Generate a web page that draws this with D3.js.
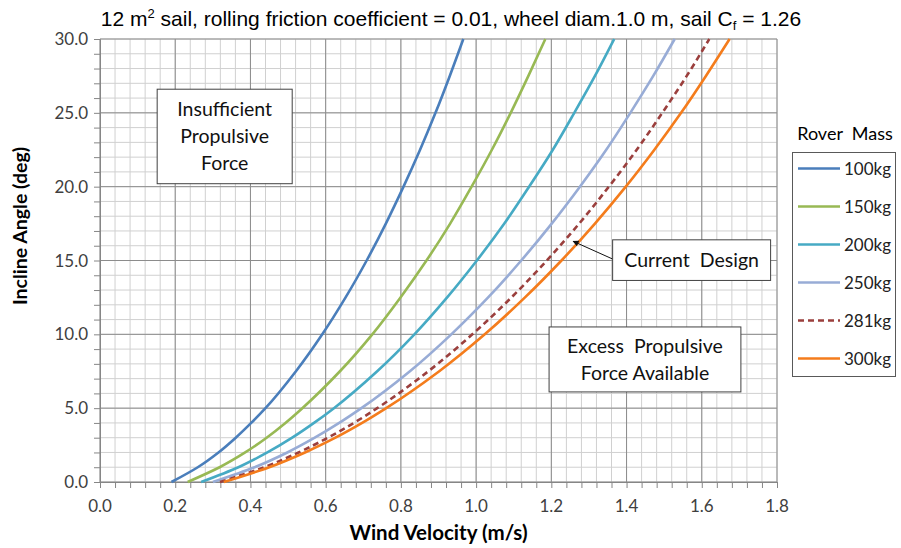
<!DOCTYPE html>
<html>
<head>
<meta charset="utf-8">
<script src="https://cdn.jsdelivr.net/npm/d3@7"></script>
<style>
  body { margin: 0; background: #fff; }
  svg { display: block; }
</style>
</head>
<body>
<div id="chart"></div>
<script>
// incline angle (deg) at which each velocity was read
var angles = [0, 1, 2, 3, 4, 5, 7.5, 10, 12.5, 15, 17.5, 20, 22.5, 25, 27.5, 30];

var v100 = [0.190, 0.260, 0.315, 0.361, 0.402, 0.440, 0.521, 0.591, 0.653, 0.709, 0.760, 0.807, 0.851, 0.892, 0.930, 0.966];
var v150 = [0.233, 0.318, 0.386, 0.443, 0.493, 0.538, 0.638, 0.724, 0.799, 0.868, 0.931, 0.988, 1.042, 1.092, 1.139, 1.184];
var v200 = [0.269, 0.368, 0.445, 0.511, 0.569, 0.622, 0.737, 0.836, 0.923, 1.002, 1.075, 1.141, 1.204, 1.261, 1.316, 1.367];
var v250 = [0.300, 0.411, 0.498, 0.571, 0.636, 0.695, 0.824, 0.934, 1.032, 1.120, 1.201, 1.276, 1.346, 1.410, 1.471, 1.528];
var v281 = [0.319, 0.436, 0.528, 0.606, 0.675, 0.737, 0.873, 0.990, 1.094, 1.188, 1.274, 1.353, 1.427, 1.495, 1.560, 1.620];
var v300 = [0.329, 0.450, 0.545, 0.626, 0.697, 0.761, 0.902, 1.023, 1.130, 1.227, 1.316, 1.398, 1.474, 1.545, 1.611, 1.674];

var seriesNames = ['100kg', '150kg', '200kg', '250kg', '281kg', '300kg'];
var seriesVals = [v100, v150, v200, v250, v281, v300];
var seriesColors = ['#4a7ebb', '#98b954', '#46aac4', '#98acd6', '#9b3f3d', '#f47c1c'];
var seriesDash = [null, null, null, null, '6,4', null];

var xTicks = [0, 0.2, 0.4, 0.6, 0.8, 1.0, 1.2, 1.4, 1.6, 1.8];
var yTicks = [0, 5, 10, 15, 20, 25, 30];

var W = 901, H = 548;
var margin = {left: 100, top: 39, right: 124, bottom: 66};

var svg = d3.select('#chart').append('svg')
    .attr('width', W)
    .attr('height', H);

var x = d3.scaleLinear().domain([0, 1.8]).range([margin.left, W - margin.right]);
var y = d3.scaleLinear().domain([0, 30]).range([H - margin.bottom, margin.top]);

var x0 = x(0), x1 = x(1.8), y0 = y(0), y1 = y(30);

// minor grid: x every 0.04, y every 1
var xMinor = d3.range(0, 46).map(function(i){ return i * 0.04; });
var yMinor = d3.range(0, 31);

var grid = svg.append('g');
grid.selectAll('line.xm').data(xMinor).enter().append('line')
    .attr('x1', function(d){ return x(d); }).attr('x2', function(d){ return x(d); })
    .attr('y1', y1).attr('y2', y0)
    .attr('stroke', '#d0d0d0').attr('stroke-width', 1);
grid.selectAll('line.ym').data(yMinor).enter().append('line')
    .attr('y1', function(d){ return y(d); }).attr('y2', function(d){ return y(d); })
    .attr('x1', x0).attr('x2', x1)
    .attr('stroke', '#d0d0d0').attr('stroke-width', 1);
// major grid
grid.selectAll('line.xM').data(xTicks).enter().append('line')
    .attr('x1', function(d){ return x(d); }).attr('x2', function(d){ return x(d); })
    .attr('y1', y1).attr('y2', y0)
    .attr('stroke', '#8c8c8c').attr('stroke-width', 1);
grid.selectAll('line.yM').data(yTicks).enter().append('line')
    .attr('y1', function(d){ return y(d); }).attr('y2', function(d){ return y(d); })
    .attr('x1', x0).attr('x2', x1)
    .attr('stroke', '#8c8c8c').attr('stroke-width', 1);

// axes with minor tick marks
var xAxis = svg.append('g')
    .attr('transform', 'translate(0,' + y0 + ')')
    .call(d3.axisBottom(x).tickValues(xMinor).tickSize(6).tickFormat(''));
var yAxis = svg.append('g')
    .attr('transform', 'translate(' + x0 + ',0)')
    .call(d3.axisLeft(y).tickValues(yMinor).tickSize(6).tickFormat(''));
[xAxis, yAxis].forEach(function(a){
    a.selectAll('path,line').attr('stroke', '#868686');
});

var lblFont = "Lato, 'Open Sans', sans-serif";

svg.append('g').selectAll('text').data(xTicks).enter().append('text')
    .attr('x', function(d){ return x(d); })
    .attr('y', y0 + 30)
    .attr('text-anchor', 'middle')
    .style('font-family', lblFont).style('font-size', '17px').style('fill', '#404040')
    .text(function(d){ return d.toFixed(1); });

svg.append('g').selectAll('text').data(yTicks).enter().append('text')
    .attr('x', x0 - 12)
    .attr('y', function(d){ return y(d) + 6; })
    .attr('text-anchor', 'end')
    .style('font-family', lblFont).style('font-size', '17px').style('fill', '#404040')
    .text(function(d){ return d.toFixed(1); });

// axis titles
svg.append('text')
    .attr('x', (x0 + x1) / 2).attr('y', 540)
    .attr('text-anchor', 'middle')
    .style('font-family', lblFont).style('font-size', '20.5px').style('font-weight', 'bold')
    .text('Wind Velocity (m/s)');
svg.append('text')
    .attr('transform', 'translate(27,226) rotate(-90)')
    .attr('text-anchor', 'middle')
    .style('font-family', lblFont).style('font-size', '19.5px').style('font-weight', 'bold')
    .text('Incline Angle (deg)');

// title
var title = svg.append('text')
    .attr('x', 451).attr('y', 26)
    .attr('text-anchor', 'middle')
    .style('font-family', "'Liberation Sans', Arial, sans-serif").style('font-size', '21px');
title.append('tspan').text('12 m');
title.append('tspan').attr('dy', -8).style('font-size', '13px').text('2');
title.append('tspan').attr('dy', 8).text(' sail, rolling friction coefficient = 0.01, wheel diam.1.0 m, sail C');
title.append('tspan').attr('dy', 4).style('font-size', '13px').text('f');
title.append('tspan').attr('dy', -4).text(' = 1.26');

// curves
var line = d3.line()
    .x(function(d){ return x(d[0]); })
    .y(function(d){ return y(d[1]); })
    .curve(d3.curveMonotoneY);

var curves = svg.append('g');
seriesVals.forEach(function(vals, i){
    var pts = vals.map(function(v, k){ return [v, angles[k]]; });
    curves.append('path')
        .datum(pts)
        .attr('d', line)
        .attr('fill', 'none')
        .attr('stroke', seriesColors[i])
        .attr('stroke-width', 2.6)
        .attr('stroke-dasharray', seriesDash[i]);
});

// annotation boxes
var noteFont = lblFont;
function noteBox(vx0, vy0, vx1, vy1, lines, lh){
    var bx = x(vx0), by = y(vy0), bw = x(vx1) - x(vx0), bh = y(vy1) - y(vy0);
    var g = svg.append('g');
    g.append('rect')
        .attr('x', bx).attr('y', by).attr('width', bw).attr('height', bh)
        .attr('fill', '#fff').attr('stroke', '#404040').attr('stroke-width', 1);
    var startY = by + bh / 2 - (lines.length - 1) * lh / 2 + 7;
    lines.forEach(function(t, i){
        g.append('text')
            .attr('x', bx + bw / 2).attr('y', startY + i * lh)
            .attr('text-anchor', 'middle')
            .style('font-family', noteFont).style('font-size', '19.5px').style('fill', '#111')
            .style('white-space', 'pre')
            .text(t);
    });
    return g;
}

noteBox(0.152, 26.6, 0.511, 20.2, ['Insufficient', 'Propulsive', 'Force'], 27);
noteBox(1.194, 10.5, 1.704, 6.1, ['Excess  Propulsive', 'Force Available'], 27);

// current design arrow
svg.append('defs').append('marker')
    .attr('id', 'arrowHead')
    .attr('viewBox', '0 0 10 10')
    .attr('refX', 9).attr('refY', 5)
    .attr('markerWidth', 7).attr('markerHeight', 6)
    .attr('orient', 'auto')
    .append('path').attr('d', 'M0,0 L10,5 L0,10 Z').attr('fill', '#111');

svg.append('line')
    .attr('x1', x(1.363)).attr('y1', y(15.1))
    .attr('x2', x(1.258)).attr('y2', y(16.3))
    .attr('stroke', '#111').attr('stroke-width', 1)
    .attr('marker-end', 'url(#arrowHead)');

noteBox(1.363, 16.4, 1.783, 13.65, ['Current  Design'], 27);

// legend
var lg = svg.append('g');
lg.append('text')
    .attr('x', 845).attr('y', 140)
    .attr('text-anchor', 'middle')
    .style('font-family', noteFont).style('font-size', '18px')
    .style('white-space', 'pre')
    .text('Rover  Mass');
lg.append('rect')
    .attr('x', 792.5).attr('y', 152.5).attr('width', 103).attr('height', 224)
    .attr('fill', '#fff').attr('stroke', '#595959').attr('stroke-width', 1);
seriesNames.forEach(function(n, i){
    var ly = 168.5 + i * 38;
    lg.append('line')
        .attr('x1', 798).attr('x2', 840).attr('y1', ly).attr('y2', ly)
        .attr('stroke', seriesColors[i]).attr('stroke-width', 2.6)
        .attr('stroke-dasharray', seriesDash[i]);
    lg.append('text')
        .attr('x', 844).attr('y', ly + 6)
        .style('font-family', lblFont).style('font-size', '17px').style('fill', '#222')
        .text(n);
});
</script>
</body>
</html>
